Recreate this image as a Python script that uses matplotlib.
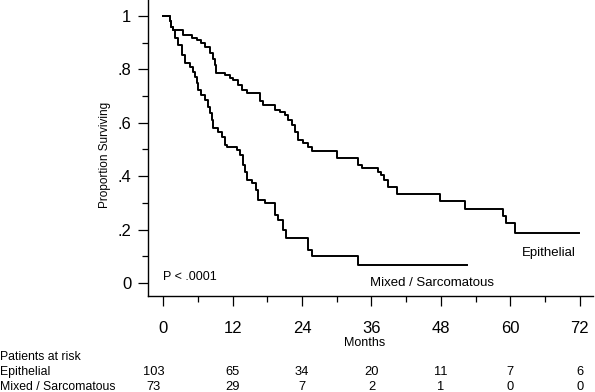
import matplotlib
matplotlib.use("Agg")
import matplotlib.pyplot as plt
from matplotlib.transforms import blended_transform_factory
from matplotlib.ticker import MultipleLocator

plt.rcParams["font.family"] = ["Liberation Sans", "DejaVu Sans"]

# Kaplan-Meier steps (months, proportion surviving)
ep_t = [0, 1.2, 1.4, 1.6, 3.4, 4.9, 5.8, 6.6, 7.3, 8.1, 8.6, 8.9, 9.2, 10.7, 11.6, 12.1,
        13.0, 13.6, 14.4, 16.7, 17.3, 19.3, 20.2, 21.0, 21.6, 22.2, 22.8, 23.3, 24.1, 25.0,
        25.8, 30.0, 33.7, 34.3, 37.2, 37.6, 38.1, 38.9, 40.4, 47.8, 52.2, 58.8, 59.2, 60.8, 71.8]
ep_s = [1.0, 0.98, 0.96, 0.947, 0.93, 0.917, 0.91, 0.898, 0.885, 0.86, 0.84, 0.816, 0.785,
        0.779, 0.767, 0.76, 0.742, 0.723, 0.71, 0.68, 0.667, 0.648, 0.64, 0.629, 0.61, 0.592,
        0.567, 0.536, 0.523, 0.51, 0.495, 0.467, 0.442, 0.43, 0.417, 0.404, 0.386, 0.36,
        0.335, 0.307, 0.278, 0.25, 0.225, 0.187, 0.187]

mx_t = [0, 1.2, 1.4, 1.6, 2.0, 2.6, 3.2, 3.75, 4.6, 5.2, 5.5, 5.8, 6.05, 6.6, 7.2, 7.8, 8.1,
        8.4, 8.6, 9.5, 10.1, 10.7, 11.0, 12.7, 13.3, 13.8, 14.1, 14.4, 15.3, 16.1, 16.4, 17.6,
        19.3, 19.9, 20.7, 21.3, 25.1, 25.7, 33.6, 52.6]
mx_s = [1.0, 0.98, 0.96, 0.947, 0.917, 0.89, 0.854, 0.823, 0.81, 0.79, 0.773, 0.748, 0.723,
        0.704, 0.685, 0.66, 0.636, 0.61, 0.58, 0.567, 0.548, 0.517, 0.51, 0.498, 0.48, 0.442,
        0.417, 0.386, 0.373, 0.349, 0.311, 0.298, 0.255, 0.236, 0.2, 0.167, 0.124, 0.099,
        0.068, 0.068]

month_ticks = [0, 12, 24, 36, 48, 60, 72]
y_ticks = [0, 0.2, 0.4, 0.6, 0.8, 1.0]
y_labels = ["0", ".2", ".4", ".6", ".8", "1"]

risk_groups = ["Epithelial", "Mixed / Sarcomatous"]
risk_epithelial = [103, 65, 34, 20, 11, 7, 6]
risk_mixed = [73, 29, 7, 2, 1, 0, 0]

W, H = 595, 392
fig = plt.figure(figsize=(W / 100, H / 100), dpi=100)
ax = fig.add_axes([148 / W, (H - 296) / H, (593 - 148) / W, 296 / H])

ax.step(ep_t, ep_s, where="post", color="black", lw=1.4)
ax.step(mx_t, mx_s, where="post", color="black", lw=1.4)

ax.set_xlim(-2.64, 74.3)
ax.set_ylim(-0.049, 1.06)
for s in ("top", "right"):
    ax.spines[s].set_visible(False)
for s in ("left", "bottom"):
    ax.spines[s].set_linewidth(1.0)

ax.set_xticks(month_ticks)
ax.xaxis.set_minor_locator(MultipleLocator(6))
ax.set_yticks(y_ticks)
ax.set_yticklabels(y_labels)
ax.yaxis.set_minor_locator(MultipleLocator(0.1))
ax.tick_params(which="major", length=7, width=0.9, labelsize=12)
ax.tick_params(which="minor", length=4, width=0.9)
ax.tick_params(axis="x", which="major", pad=11)
ax.tick_params(axis="y", which="major", pad=5)

ax.text(0, 0.022, "P < .0001", fontsize=9, va="center", ha="left")
ax.text(62.0, 0.111, "Epithelial", fontsize=9.5, va="center", ha="left")
ax.text(35.7, 0.0, "Mixed / Sarcomatous", fontsize=9.5, va="center", ha="left")

fig.text(105 / W, 1 - 155 / H, "Proportion Surviving", rotation=90,
         fontsize=8.5, ha="center", va="center")
fig.text(365 / W, 1 - 343 / H, "Months", fontsize=9, ha="center", va="center")

# patients-at-risk table
tr = blended_transform_factory(ax.transData, fig.transFigure)
fig.text(0, 1 - 357 / H, "Patients at risk", fontsize=8.8, ha="left", va="center")
for row, (name, counts) in enumerate(zip(risk_groups, [risk_epithelial, risk_mixed])):
    y = 1 - (372 + 15 * row) / H
    fig.text(0, y, name, fontsize=8.8, ha="left", va="center")
    for i, (m, n) in enumerate(zip(month_ticks, counts)):
        xm = m - 1.6 if i == 0 else m
        ax.text(xm, y, str(n), fontsize=9.3, ha="center", va="center",
                transform=tr, clip_on=False)

fig.savefig("out.png", dpi=100)
